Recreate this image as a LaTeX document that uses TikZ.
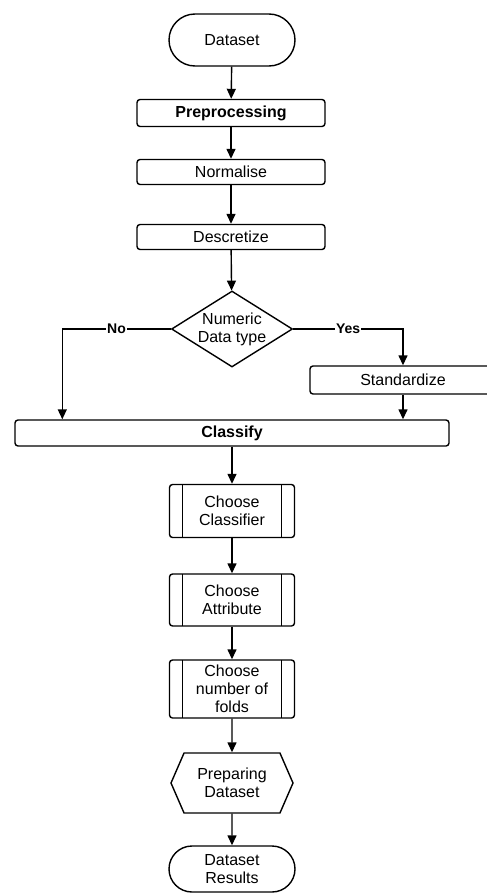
\documentclass[tikz,border=0pt]{standalone}
\usepackage{fontspec}
\setmainfont{Liberation Sans}
\usetikzlibrary{positioning, shapes.geometric, shapes.misc, shapes.symbols, arrows.meta, calc}

\begin{document}
\begin{tikzpicture}[x=1pt, y=1pt, line width=1.4pt,
    every node/.style={font=\fontsize{16}{18}\selectfont, align=center, inner sep=0pt},
    term/.style={draw, rounded rectangle, minimum width=126pt},
    proc/.style={draw, rounded corners=3pt, minimum width=188pt},
    sub/.style={draw, rounded corners=3pt, minimum width=125pt,
      path picture={\draw[sharp corners] ([xshift=13pt]path picture bounding box.north west) -- ([xshift=13pt]path picture bounding box.south west);
        \draw[sharp corners] ([xshift=-13pt]path picture bounding box.north east) -- ([xshift=-13pt]path picture bounding box.south east);}},
    lbl/.style={fill=white, inner sep=1pt, font=\fontsize{14}{16}\selectfont\bfseries},
    arr/.style={-{Triangle[length=10pt, width=9pt]}}]
    \useasboundingbox (0,0) rectangle (487,-894);
    \node[term, minimum height=52pt] (ds) at (232,-40) {Dataset};
    \node[proc, minimum height=27pt, font=\fontsize{16}{18}\selectfont\bfseries] (pre) at (231,-113) {Preprocessing};
    \node[proc, minimum height=25pt] (norm) at (231,-172) {Normalise};
    \node[proc, minimum height=25pt] (desc) at (231,-237) {Descretize};
    \node[draw, diamond, minimum width=121pt, minimum height=76pt] (dec) at (232,-329) {};
    \node (dectxt) at (dec) {Numeric\\Data type};
    \begin{scope}
      \clip (300,-360) rectangle (487,-400);
      \node[proc, minimum width=186pt, minimum height=28pt] (std) at (403,-380) {Standardize};
    \end{scope}
    \node[proc, minimum width=434pt, minimum height=26pt, font=\fontsize{16}{18}\selectfont\bfseries] (cls) at (232,-433) {Classify};
    \node[sub, minimum height=53pt] (c1) at (232,-511) {Choose\\Classifier};
    \node[sub, minimum height=52pt] (c2) at (232,-600) {Choose\\Attribute};
    \node[sub, minimum height=58pt] (c3) at (232,-689) {Choose\\number of\\folds};
    \node[draw, signal, signal to=west and east, signal pointer angle=133, minimum width=122pt, minimum height=60pt] (prep) at (232,-783) {Preparing\\Dataset};
    \node[term, minimum height=46pt] (res) at (232,-869) {Dataset\\Results};
    \draw[arr] (ds) -- (pre);
    \draw[arr] (pre) -- (norm);
    \draw[arr] (norm) -- (desc);
    \draw[arr] (desc) -- (dec);
    \draw[arr] (dec.west) -| node[lbl, pos=0.25] (no) {No} ([xshift=48pt]cls.north west);
    \draw[arr] (dec.east) -| node[lbl, pos=0.25] (yes) {Yes} (std.north);
    \draw[arr] (std.south) -- (std.south |- cls.north);
    \draw[arr] (cls.south) -- (c1);
    \draw[arr] (c1) -- (c2);
    \draw[arr] (c2) -- (c3);
    \draw[arr] (c3) -- (prep);
    \draw[arr] (prep) -- (res);
\end{tikzpicture}
\end{document}
